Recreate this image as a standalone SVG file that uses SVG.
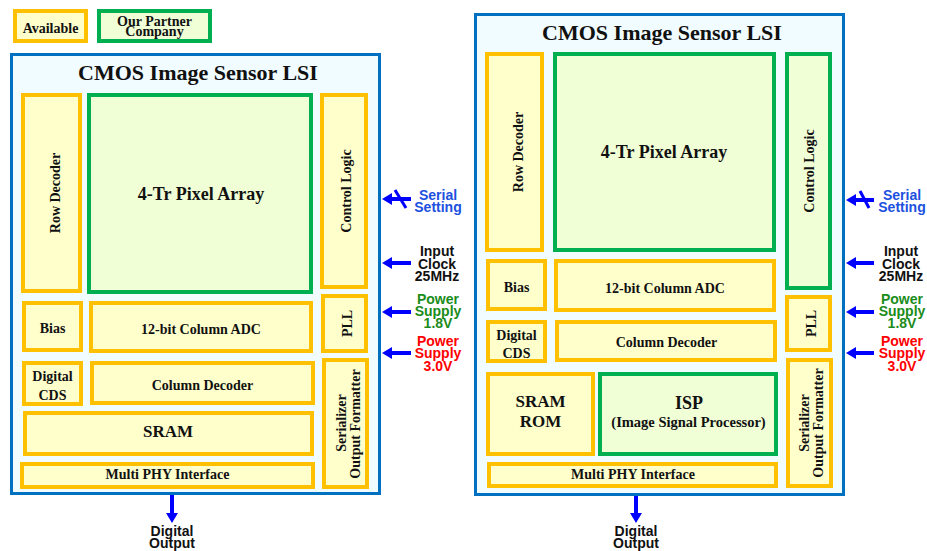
<svg xmlns="http://www.w3.org/2000/svg" width="927" height="551" viewBox="0 0 927 551">
<defs>
<marker id="ah" markerUnits="userSpaceOnUse" markerWidth="10" markerHeight="12" refX="0" refY="6" orient="auto">
<path d="M0,0 L10,6 L0,12 z" fill="#0000FF"/>
</marker>
<style>
.chip{fill:#F0FCFF;stroke:#0070C0;stroke-width:3}
.av{fill:#FFFFCC;stroke:#FFC000;stroke-width:4}
.pt{fill:#F0FFD6;stroke:#00B050;stroke-width:4}
.t{font-family:"Liberation Serif","Times New Roman",serif;font-weight:bold;fill:#111;text-anchor:middle}
.s14{font-size:14px}
.s17{font-size:17px}
.s18{font-size:18px}
.s22{font-size:22px}
.lab{font-family:"Liberation Sans",Arial,sans-serif;font-weight:bold;font-size:14px;text-anchor:middle}
.blue{fill:#2050E0}
.blk{fill:#111}
.grn{fill:#1A8C1A}
.red{fill:#FF0000}
.arr{stroke:#0000FF;stroke-width:4;fill:none;marker-end:url(#ah)}
.x{stroke:#0000FF;stroke-width:3}
</style>
</defs>
<rect width="927" height="551" fill="#FFFFFF"/>

<!-- Legend -->
<g id="legend-available">
<rect class="av" x="15" y="11" width="71" height="30"/>
<text class="t s14" x="50.5" y="33">Available</text>
</g>
<g id="legend-partner">
<rect class="pt" x="99" y="11" width="111" height="30"/>
<text class="t s14" x="154.5" y="25.5">Our Partner</text>
<text class="t s14" x="154.5" y="36">Company</text>
</g>

<!-- LEFT CHIP -->
<g id="L-chip">
<rect class="chip" x="11.5" y="54.5" width="368" height="439"/>
<text class="t s22" x="198" y="80">CMOS Image Sensor LSI</text>
</g>
<g id="L-rowdec">
<rect class="av" x="23" y="95" width="57" height="196"/>
<text class="t s14" transform="translate(60,193) rotate(-90)">Row Decoder</text>
</g>
<g id="L-pixel">
<rect class="pt" x="89" y="95" width="222" height="197"/>
<text class="t s18" x="201" y="200">4-Tr Pixel Array</text>
</g>
<g id="L-ctrl">
<rect class="av" x="322" y="95" width="44" height="192"/>
<text class="t s14" transform="translate(351,191) rotate(-90)">Control Logic</text>
</g>
<g id="L-bias">
<rect class="av" x="24" y="303" width="57" height="47"/>
<text class="t s14" x="52.5" y="332.5">Bias</text>
</g>
<g id="L-adc">
<rect class="av" x="91" y="303" width="220" height="48"/>
<text class="t s14" x="201" y="334">12-bit Column ADC</text>
</g>
<g id="L-pll">
<rect class="av" x="323" y="296" width="43" height="55"/>
<text class="t s14" transform="translate(352,323.5) rotate(-90)">PLL</text>
</g>
<g id="L-cds">
<rect class="av" x="24" y="363" width="57" height="41"/>
<text class="t s14" x="52.5" y="380.5">Digital</text>
<text class="t s14" x="52.5" y="399.5">CDS</text>
</g>
<g id="L-coldec">
<rect class="av" x="92" y="363" width="221" height="40"/>
<text class="t s14" x="202.5" y="390">Column Decoder</text>
</g>
<g id="L-ser">
<rect class="av" x="324" y="360" width="43" height="127"/>
<text class="t s14" transform="translate(346,423) rotate(-90)">Serializer</text>
<text class="t s14" transform="translate(360,424) rotate(-90)">Output Formatter</text>
</g>
<g id="L-sram">
<rect class="av" x="25" y="413" width="287" height="41"/>
<text class="t s17" x="168" y="437">SRAM</text>
</g>
<g id="L-phy">
<rect class="av" x="22" y="464" width="291" height="23"/>
<text class="t s14" x="167.5" y="478.5">Multi PHY Interface</text>
</g>

<!-- RIGHT CHIP -->
<g id="R-chip">
<rect class="chip" x="475.5" y="14.5" width="368" height="480"/>
<text class="t s22" x="662" y="39.5">CMOS Image Sensor LSI</text>
</g>
<g id="R-rowdec">
<rect class="av" x="487" y="54" width="55" height="196"/>
<text class="t s14" transform="translate(523,152) rotate(-90)">Row Decoder</text>
</g>
<g id="R-pixel">
<rect class="pt" x="555" y="54" width="219" height="196"/>
<text class="t s18" x="664" y="158">4-Tr Pixel Array</text>
</g>
<g id="R-ctrl">
<rect class="pt" x="787" y="54" width="43" height="234"/>
<text class="t s14" transform="translate(814,171) rotate(-90)">Control Logic</text>
</g>
<g id="R-bias">
<rect class="av" x="488" y="261" width="57" height="48"/>
<text class="t s14" x="516.5" y="291.5">Bias</text>
</g>
<g id="R-adc">
<rect class="av" x="556" y="261" width="218" height="49"/>
<text class="t s14" x="665" y="293">12-bit Column ADC</text>
</g>
<g id="R-pll">
<rect class="av" x="787" y="297" width="43" height="53"/>
<text class="t s14" transform="translate(816,323.5) rotate(-90)">PLL</text>
</g>
<g id="R-cds">
<rect class="av" x="488" y="322" width="57" height="39"/>
<text class="t s14" x="516.5" y="340">Digital</text>
<text class="t s14" x="516.5" y="358">CDS</text>
</g>
<g id="R-coldec">
<rect class="av" x="557" y="322" width="218" height="38"/>
<text class="t s14" x="666.5" y="347">Column Decoder</text>
</g>
<g id="R-ser">
<rect class="av" x="788" y="360" width="43" height="126"/>
<text class="t s14" transform="translate(809,423) rotate(-90)">Serializer</text>
<text class="t s14" transform="translate(823,423) rotate(-90)">Output Formatter</text>
</g>
<g id="R-sramrom">
<rect class="av" x="488" y="374" width="105" height="80"/>
<text class="t s17" x="540.5" y="406.5">SRAM</text>
<text class="t s17" x="540.5" y="426.5">ROM</text>
</g>
<g id="R-isp">
<rect class="pt" x="600" y="374" width="176" height="80"/>
<text class="t s18" x="689" y="409">ISP</text>
<text class="t" style="font-size:14.5px" x="688.5" y="427">(Image Signal Processor)</text>
</g>
<g id="R-phy">
<rect class="av" x="489" y="464" width="287" height="22"/>
<text class="t s14" x="633" y="478.5">Multi PHY Interface</text>
</g>

<!-- Connectors -->
<g id="connectors">
<line class="arr" x1="411" y1="199" x2="392" y2="199"/>
<line class="x" x1="395" y1="190" x2="406" y2="208"/>
<line class="arr" x1="411" y1="263" x2="392" y2="263"/>
<line class="arr" x1="411" y1="312" x2="392" y2="312"/>
<line class="arr" x1="411" y1="353" x2="392" y2="353"/>
<line class="arr" x1="172" y1="495" x2="172" y2="513"/>

<line class="arr" x1="874" y1="200" x2="856" y2="200"/>
<line class="x" x1="860" y1="191" x2="869" y2="208"/>
<line class="arr" x1="874" y1="263" x2="856" y2="263"/>
<line class="arr" x1="874" y1="312" x2="856" y2="312"/>
<line class="arr" x1="874" y1="353" x2="856" y2="353"/>
<line class="arr" x1="636" y1="496" x2="636" y2="513"/>
</g>

<!-- Port labels -->
<g id="L-labels">
<text class="lab blue" x="438" y="200">Serial</text>
<text class="lab blue" x="438" y="212">Setting</text>
<text class="lab blk" x="437" y="256">Input</text>
<text class="lab blk" x="437" y="268.5">Clock</text>
<text class="lab blk" x="437" y="281">25MHz</text>
<text class="lab grn" x="438" y="304">Power</text>
<text class="lab grn" x="438" y="316">Supply</text>
<text class="lab grn" x="438" y="327.5">1.8V</text>
<text class="lab red" x="438" y="346">Power</text>
<text class="lab red" x="438" y="358">Supply</text>
<text class="lab red" x="438" y="370.5">3.0V</text>
<text class="lab blk" x="172" y="536">Digital</text>
<text class="lab blk" x="172" y="548">Output</text>
</g>
<g id="R-labels">
<text class="lab blue" x="902" y="200">Serial</text>
<text class="lab blue" x="902" y="212">Setting</text>
<text class="lab blk" x="901" y="256">Input</text>
<text class="lab blk" x="901" y="268.5">Clock</text>
<text class="lab blk" x="901" y="281">25MHz</text>
<text class="lab grn" x="902" y="304">Power</text>
<text class="lab grn" x="902" y="316">Supply</text>
<text class="lab grn" x="902" y="327.5">1.8V</text>
<text class="lab red" x="902" y="346">Power</text>
<text class="lab red" x="902" y="358">Supply</text>
<text class="lab red" x="902" y="370.5">3.0V</text>
<text class="lab blk" x="636" y="536">Digital</text>
<text class="lab blk" x="636" y="548">Output</text>
</g>
</svg>
